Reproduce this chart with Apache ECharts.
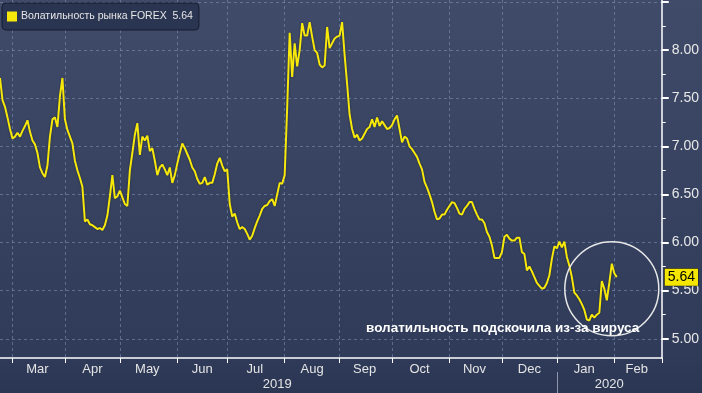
<!DOCTYPE html>
<html><head><meta charset="utf-8">
<script src="https://cdn.jsdelivr.net/npm/echarts@6/dist/echarts.min.js"></script>
<style>html,body{margin:0;padding:0;background:#2c3855}#c{width:702px;height:393px}</style>
</head><body><div id="c"></div>
<script>
const seriesName = 'Волатильность рынка FOREX';
const forexVol = [
  7.71, 7.48, 7.41, 7.30, 7.18, 7.08, 7.10, 7.14, 7.10, 7.16,
  7.21, 7.27, 7.15, 7.06, 7.02, 6.93, 6.78, 6.72, 6.68, 6.80,
  7.10, 7.28, 7.30, 7.20, 7.52, 7.71, 7.28, 7.17, 7.10, 7.03,
  6.85, 6.75, 6.67, 6.58, 6.22, 6.24, 6.19, 6.18, 6.16, 6.14,
  6.15, 6.13, 6.18, 6.28, 6.48, 6.70, 6.46, 6.48, 6.54, 6.47,
  6.40, 6.38, 6.75, 6.93, 7.12, 7.24, 6.91, 7.10, 7.06, 7.11,
  6.95, 6.98, 6.85, 6.70, 6.78, 6.81, 6.76, 6.70, 6.78, 6.62,
  6.70, 6.82, 6.93, 7.03, 6.98, 6.92, 6.86, 6.78, 6.74, 6.66,
  6.61, 6.62, 6.68, 6.60, 6.62, 6.62, 6.71, 6.82, 6.88, 6.80,
  6.74, 6.76, 6.40, 6.27, 6.30, 6.21, 6.14, 6.16, 6.14, 6.09,
  6.03, 6.07, 6.15, 6.22, 6.28, 6.35, 6.38, 6.39, 6.43, 6.45,
  6.38, 6.50, 6.62, 6.61, 6.70, 7.40, 8.18, 7.72, 8.07, 7.83,
  8.00, 8.28, 8.15, 8.15, 8.29, 8.14, 8.00, 7.97, 7.85, 7.82,
  7.84, 8.24, 8.02, 8.07, 8.12, 8.14, 8.15, 8.29, 7.95, 7.65,
  7.33, 7.18, 7.09, 7.12, 7.06, 7.08, 7.13, 7.18, 7.20, 7.28,
  7.20, 7.30, 7.21, 7.26, 7.22, 7.18, 7.19, 7.22, 7.28, 7.32,
  7.18, 7.04, 7.10, 7.08, 7.00, 6.97, 6.93, 6.89, 6.82, 6.76,
  6.63, 6.57, 6.50, 6.42, 6.32, 6.24, 6.25, 6.29, 6.29, 6.34,
  6.38, 6.42, 6.41, 6.36, 6.30, 6.29, 6.35, 6.38, 6.42, 6.42,
  6.35, 6.29, 6.24, 6.24, 6.20, 6.11, 6.06, 5.97, 5.84, 5.84,
  5.84, 5.90, 6.06, 6.08, 6.04, 6.02, 6.02, 6.05, 6.05, 5.90,
  5.88, 5.71, 5.75, 5.70, 5.64, 5.58, 5.55, 5.52, 5.53, 5.58,
  5.66, 5.83, 5.96, 5.94, 6.01, 5.95, 6.01, 5.85, 5.76, 5.64,
  5.48, 5.45, 5.41, 5.36, 5.30, 5.20, 5.19, 5.25, 5.22, 5.25,
  5.27, 5.60, 5.52, 5.40, 5.58, 5.78, 5.68, 5.64
];
const yMajorTicks = [5.0, 5.5, 6.0, 6.5, 7.0, 7.5, 8.0, 8.5];
const yLabelValues = [5.0, 5.5, 6.0, 6.5, 7.0, 7.5, 8.0];
const yMinorTicks = [5.25, 5.75, 6.25, 6.75, 7.25, 7.75, 8.25];
const monthNames = ['Jan','Feb','Mar','Apr','May','Jun','Jul','Aug','Sep','Oct','Nov','Dec'];
const annotationText = 'волатильность подскочила из-за вируса';
const startDate = '2019-02-22';
const endDate = '2020-02-28';

// business-day categories
const dates = [];
for (let d = new Date(startDate + 'T00:00:00Z'); d <= new Date(endDate + 'T00:00:00Z'); d.setUTCDate(d.getUTCDate() + 1)) {
  const wd = d.getUTCDay();
  if (wd === 0 || wd === 6) continue;
  dates.push(d.toISOString().slice(0, 10));
}
const lastIdx = dates.length - 1;
const monthStarts = [];
for (let i = 1; i < dates.length; i++) {
  if (dates[i].slice(0, 7) !== dates[i - 1].slice(0, 7)) monthStarts.push(i);
}
const tickSet = new Set(monthStarts.concat([lastIdx]));
const bounds = monthStarts.concat([lastIdx]);
const monthMid = new Set();
for (let k = 0; k < bounds.length - 1; k++) monthMid.add(Math.floor((bounds[k] + bounds[k + 1]) / 2));
const yearStart = dates.findIndex(d => d.startsWith('2020'));
const yearMid = new Set([Math.floor((0 + yearStart - 1) / 2), Math.floor((yearStart + lastIdx) / 2)]);
const lastVal = forexVol[forexVol.length - 1];

const gridLine = { color: 'rgba(130,150,185,0.55)', type: [3, 3], width: 1 };
const labelFont = 'Liberation Sans';

const chart = echarts.init(document.getElementById('c'), null, { renderer: 'canvas' });
chart.setOption({
  animation: false,
  backgroundColor: new echarts.graphic.LinearGradient(0, 0, 0, 1, [
    { offset: 0, color: '#3f4b69' }, { offset: 0.9, color: '#2f3b59' }, { offset: 1, color: '#2b3653' }
  ]),
  grid: { left: 0, right: 40, top: 0, bottom: 35, containLabel: false },
  legend: {
    left: 2, top: 3, icon: 'rect', itemWidth: 10, itemHeight: 10, itemGap: 4,
    padding: [8, 6, 8, 5], backgroundColor: '#2a3552', borderColor: '#161d2e', borderWidth: 1, borderRadius: 4,
    textStyle: { color: '#e6e6e6', fontSize: 10.5, fontFamily: labelFont, padding: [0, 0, 0, -1] },
    formatter: n => n + '  ' + lastVal.toFixed(2),
    data: [seriesName]
  },
  xAxis: [{
    type: 'category', data: dates, boundaryGap: false,
    axisLine: { lineStyle: { color: '#ffffff', width: 1.5 } },
    axisTick: { interval: i => tickSet.has(i), length: 5, lineStyle: { color: '#ffffff' } },
    splitLine: { show: true, interval: i => tickSet.has(i) && i !== lastIdx, lineStyle: gridLine },
    axisLabel: {
      interval: i => monthMid.has(i), margin: 5, color: '#e4e4e4', fontSize: 13, fontFamily: labelFont,
      formatter: v => monthNames[Number(v.slice(5, 7)) - 1]
    }
  }, {
    type: 'category', data: dates, boundaryGap: false, position: 'bottom', offset: 14,
    axisLine: { show: false },
    axisTick: { interval: i => i === yearStart, length: 22, lineStyle: { color: '#8d96aa' } },
    splitLine: { show: false },
    axisLabel: {
      interval: i => yearMid.has(i), margin: 6, color: '#e4e4e4', fontSize: 13, fontFamily: labelFont,
      formatter: v => v.slice(0, 4)
    }
  }],
  yAxis: [{
    type: 'value', position: 'right', min: 4.8, max: 8.52,
    axisLine: { show: true, lineStyle: { color: '#ffffff', width: 1.5 } },
    axisTick: { show: true, customValues: yMajorTicks, length: 7, lineStyle: { color: '#ffffff', width: 2 } },
    axisLabel: { customValues: yLabelValues, formatter: v => v.toFixed(2), color: '#e8e8e8', fontSize: 14, fontFamily: labelFont, margin: 10 },
    splitLine: { show: true, lineStyle: gridLine }
  }, {
    type: 'value', position: 'right', min: 4.8, max: 8.52,
    axisLine: { show: false },
    axisTick: { show: true, customValues: yMinorTicks, length: 4, lineStyle: { color: '#ffffff', width: 1 } },
    axisLabel: { show: false },
    splitLine: { show: false }
  }],
  series: [{
    name: seriesName, type: 'line', data: forexVol, xAxisIndex: 0, yAxisIndex: 0,
    symbol: 'none', showSymbol: false, color: '#f7e80c',
    lineStyle: { color: '#f7e80c', width: 2, shadowColor: 'rgba(0,0,0,0.45)', shadowBlur: 2 },
    markLine: {
      silent: true, symbol: 'none',
      lineStyle: { color: 'rgba(0,0,0,0)', width: 0 },
      label: {
        show: true, position: 'end', distance: 3, formatter: () => lastVal.toFixed(2),
        backgroundColor: '#f5e600', borderColor: '#1a1a1a', borderWidth: 0.5,
        color: '#000', padding: [2, 3, 1, 3], fontSize: 14, fontFamily: labelFont
      },
      data: [{ yAxis: lastVal }]
    }
  }]
});

const c = chart.convertToPixel({ xAxisIndex: 0, yAxisIndex: 0 }, [dates[245], 5.52]);
const t = chart.convertToPixel({ xAxisIndex: 0, yAxisIndex: 0 }, [dates[256], 5.11]);
chart.setOption({
  graphic: [
    { type: 'circle', shape: { cx: c[0], cy: c[1], r: 47 }, style: { fill: 'none', stroke: '#e8e8e8', lineWidth: 1.5 }, z: 10 },
    { type: 'text', x: t[0], y: t[1], style: { text: annotationText, fill: '#ffffff', font: 'bold 13.5px "Liberation Sans", sans-serif', align: 'right', verticalAlign: 'middle' }, z: 11 }
  ]
});
</script></body></html>
